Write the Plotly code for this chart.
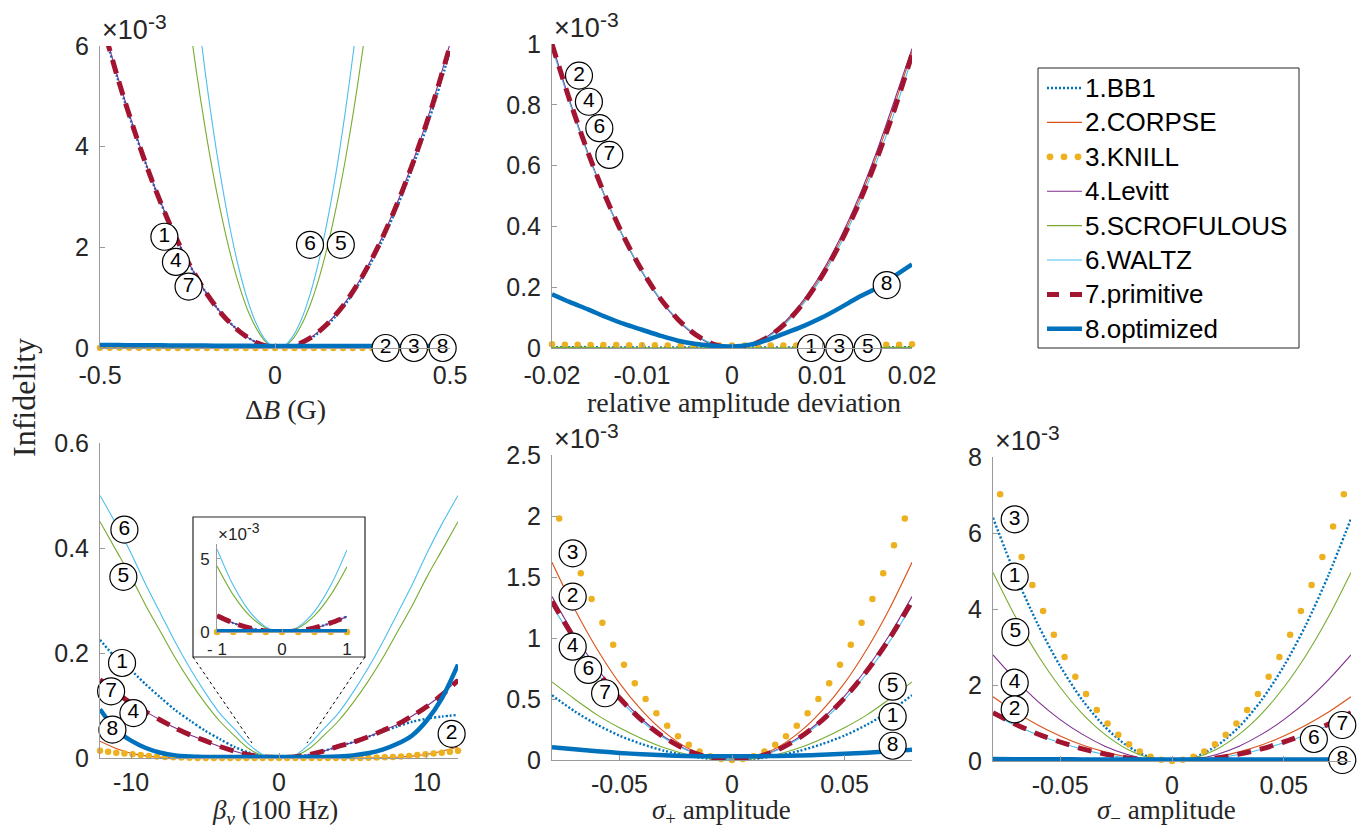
import plotly.graph_objects as go

W, H = 1369, 829
def PX(x): return x / W
def PY(y): return 1 - y / H

SANS = "Liberation Sans"
SERIF = "Liberation Serif"
TXT = "#262626"
AXC = "#9a9a9a"

COL = dict(bb1="#0072BD", corpse="#D95319", knill="#EDB120", levitt="#7E2F8E",
           scrof="#77AC30", waltz="#4DBEEE", prim="#A2142F", opt="#0072BD")
legend_names = ["1.BB1", "2.CORPSE", "3.KNILL", "4.Levitt", "5.SCROFULOUS",
                "6.WALTZ", "7.primitive", "8.optimized"]

# ---------------- Panel 1 : Delta B (G), infidelity x1e-3 ----------------
p1_x = [-0.5, -0.45, -0.4, -0.35, -0.3, -0.25, -0.2, -0.15, -0.1, -0.05, 0,
        0.05, 0.1, 0.15, 0.2, 0.25, 0.3, 0.35, 0.4, 0.45, 0.5]
p1_bb1 = [6.58, 5.36, 4.27, 3.30, 2.45, 1.73, 1.13, 0.66, 0.32, 0.10, 0.01,
          0.03, 0.18, 0.46, 0.86, 1.39, 2.04, 2.82, 3.72, 4.74, 5.90]
p1_corpse = [0.004, 0.004, 0.003, 0.003, 0.003, 0.002, 0.002, 0.002, 0.001, 0.001, 0.0,
             0.001, 0.001, 0.002, 0.002, 0.002, 0.003, 0.003, 0.003, 0.004, 0.004]
p1_levitt = [6.65, 5.40, 4.30, 3.31, 2.46, 1.74, 1.13, 0.66, 0.32, 0.10, 0.005,
             0.04, 0.20, 0.49, 0.90, 1.44, 2.11, 2.90, 3.82, 4.87, 6.05]
p1_prim = [6.61, 5.38, 4.28, 3.30, 2.45, 1.73, 1.13, 0.66, 0.32, 0.097, 0.004,
           0.036, 0.195, 0.48, 0.89, 1.43, 2.09, 2.88, 3.79, 4.83, 6.00]
p1_opt = [0.06, 0.058, 0.056, 0.054, 0.052, 0.05, 0.048, 0.046, 0.044, 0.042, 0.04,
          0.04, 0.04, 0.04, 0.04, 0.04, 0.04, 0.04, 0.04, 0.04, 0.04]
p1_scrof_x = [-0.25, -0.225, -0.2, -0.175, -0.15, -0.125, -0.1, -0.075, -0.05, -0.025, 0,
              0.025, 0.05, 0.075, 0.1, 0.125, 0.15, 0.175, 0.2, 0.225, 0.25, 0.275]
p1_scrof = [6.75, 5.51, 4.39, 3.40, 2.54, 1.80, 1.19, 0.70, 0.35, 0.11, 0.007,
            0.027, 0.17, 0.45, 0.85, 1.37, 2.02, 2.80, 3.70, 4.73, 5.89, 7.17]
p1_waltz_x = [-0.225, -0.2, -0.175, -0.15, -0.125, -0.1, -0.075, -0.05, -0.025, 0,
              0.025, 0.05, 0.075, 0.1, 0.125, 0.15, 0.175, 0.2, 0.225, 0.25]
p1_waltz = [6.91, 5.51, 4.27, 3.19, 2.26, 1.49, 0.88, 0.43, 0.14, 0.009,
            0.034, 0.22, 0.56, 1.06, 1.72, 2.54, 3.51, 4.65, 5.94, 7.39]
p1_knill_x = [-0.5, -0.4722, -0.4444, -0.4167, -0.3889, -0.3611, -0.3333, -0.3056, -0.2778,
              -0.25, -0.2222, -0.1944, -0.1667, -0.1389, -0.1111, -0.0833, -0.0556, -0.0278, 0,
              0.0278, 0.0556, 0.0833, 0.1111, 0.1389, 0.1667, 0.1944, 0.2222, 0.25,
              0.2778, 0.3056, 0.3333, 0.3611, 0.3889, 0.4167, 0.4444, 0.4722, 0.5]
p1_knill = [0.006, 0.005, 0.004, 0.004, 0.003, 0.003, 0.002, 0.002, 0.002,
            0.001, 0.001, 0.001, 0.001, 0.0, 0.0, 0.0, 0.0, 0.0, 0.0,
            0.0, 0.0, 0.0, 0.0, 0.0, 0.001, 0.001, 0.001, 0.001,
            0.002, 0.002, 0.002, 0.003, 0.003, 0.004, 0.004, 0.005, 0.006]
lab1_x = [-0.316, -0.283, -0.247, 0.100, 0.188, 0.316, 0.397, 0.479]
lab1_y = [2.21, 1.71, 1.22, 2.05, 2.05, 0.0, 0.0, 0.0]
lab1_t = ["1", "4", "7", "6", "5", "2", "3", "8"]

# ---------------- Panel 2 : relative amplitude deviation ----------------
p2_x = [-0.02, -0.018, -0.016, -0.014, -0.012, -0.01, -0.008, -0.006, -0.004, -0.002, 0,
        0.002, 0.004, 0.006, 0.008, 0.01, 0.012, 0.014, 0.016, 0.018, 0.02]
p2_bb1 = [0.003, 0.003, 0.003, 0.002, 0.002, 0.002, 0.002, 0.002, 0.002, 0.002, 0.002,
          0.002, 0.002, 0.002, 0.002, 0.002, 0.002, 0.002, 0.003, 0.003, 0.003]
p2_corpse = [0.995, 0.808, 0.640, 0.491, 0.361, 0.252, 0.162, 0.092, 0.042, 0.011, 0.0,
             0.009, 0.038, 0.086, 0.154, 0.242, 0.350, 0.478, 0.626, 0.794, 0.975]
p2_levitt = [1.00, 0.81, 0.64, 0.49, 0.36, 0.25, 0.16, 0.09, 0.04, 0.01, 0.0,
             0.01, 0.04, 0.09, 0.16, 0.25, 0.36, 0.49, 0.64, 0.81, 0.985]
p2_scrof = [0.002, 0.002, 0.002, 0.001, 0.001, 0.001, 0.001, 0.001, 0.001, 0.001, 0.001,
            0.001, 0.001, 0.001, 0.001, 0.001, 0.001, 0.001, 0.002, 0.002, 0.002]
p2_waltz = [0.99, 0.804, 0.636, 0.489, 0.360, 0.252, 0.162, 0.093, 0.043, 0.012, 0.0,
            0.008, 0.036, 0.082, 0.148, 0.234, 0.339, 0.464, 0.608, 0.772, 0.955]
p2_prim = [1.000, 0.812, 0.643, 0.494, 0.364, 0.255, 0.164, 0.094, 0.043, 0.012, 0.0,
           0.008, 0.036, 0.083, 0.150, 0.237, 0.343, 0.469, 0.615, 0.780, 0.965]
p2_opt = [0.177, 0.151, 0.127, 0.102, 0.079, 0.060, 0.041, 0.024, 0.013, 0.007, 0.005,
          0.011, 0.027, 0.050, 0.073, 0.100, 0.132, 0.166, 0.196, 0.236, 0.275]
p2_knill_x = [-0.02, -0.01857, -0.01714, -0.01571, -0.01429, -0.01286, -0.01143, -0.01,
              -0.00857, -0.00714, -0.00571, -0.00429, -0.00286, -0.00143, 0, 0.00143,
              0.00286, 0.00429, 0.00571, 0.00714, 0.00857, 0.01, 0.01143, 0.01286,
              0.01429, 0.01571, 0.01714, 0.01857, 0.02]
p2_knill = [0.012, 0.011, 0.011, 0.010, 0.010, 0.010, 0.009, 0.009, 0.009, 0.008, 0.008,
            0.008, 0.008, 0.008, 0.008, 0.008, 0.008, 0.008, 0.008, 0.008, 0.009, 0.009,
            0.009, 0.010, 0.010, 0.010, 0.011, 0.011, 0.012]
lab2_x = [-0.0170, -0.0159, -0.01474, -0.01363, 0.01719, 0.00878, 0.01193, 0.01508]
lab2_y = [0.896, 0.810, 0.723, 0.635, 0.207, 0.0, 0.0, 0.0]
lab2_t = ["2", "4", "6", "7", "8", "1", "3", "5"]

# ---------------- Panel 3 : beta_v (100 Hz) ----------------
p3_x = [-12.1, -11, -10, -9, -8, -7, -6, -5, -4, -3, -2, -1, 0,
        1, 2, 3, 4, 5, 6, 7, 8, 9, 10, 11, 12.1]
p3_bb1 = [0.225, 0.190, 0.167, 0.140, 0.115, 0.091, 0.071, 0.052, 0.036, 0.021, 0.010, 0.003, 0.001,
          0.002, 0.006, 0.013, 0.022, 0.030, 0.040, 0.050, 0.060, 0.069, 0.075, 0.079, 0.082]
p3_corpse = [0.032, 0.018, 0.009, 0.004, 0.0015, 0.0005, 0.0, 0.0, 0.0, 0.0, 0.0, 0.0, 0.0,
             0.0, 0.0, 0.0, 0.0, 0.0, 0.0, 0.0005, 0.0015, 0.0035, 0.007, 0.013, 0.021]
p3_levitt = [0.149, 0.125, 0.104, 0.088, 0.072, 0.057, 0.044, 0.033, 0.022, 0.013, 0.006, 0.002, 0.001,
             0.002, 0.006, 0.013, 0.022, 0.030, 0.040, 0.052, 0.064, 0.080, 0.099, 0.121, 0.150]
p3_scrof = [0.450, 0.395, 0.345, 0.290, 0.240, 0.190, 0.145, 0.105, 0.070, 0.042, 0.017, 0.004, 0.0,
            0.003, 0.017, 0.042, 0.070, 0.105, 0.145, 0.190, 0.240, 0.290, 0.345, 0.395, 0.450]
p3_waltz = [0.500, 0.445, 0.390, 0.330, 0.275, 0.220, 0.170, 0.125, 0.085, 0.055, 0.025, 0.005, 0.0,
            0.004, 0.025, 0.055, 0.085, 0.125, 0.170, 0.220, 0.275, 0.330, 0.390, 0.445, 0.500]
p3_prim = [0.149, 0.125, 0.104, 0.088, 0.072, 0.057, 0.044, 0.033, 0.022, 0.013, 0.006, 0.002, 0.001,
           0.002, 0.006, 0.013, 0.022, 0.030, 0.040, 0.052, 0.064, 0.080, 0.098, 0.120, 0.148]
p3_opt = [0.093, 0.053, 0.033, 0.019, 0.010, 0.005, 0.003, 0.002, 0.002, 0.002, 0.002, 0.002, 0.002,
          0.002, 0.002, 0.002, 0.003, 0.005, 0.009, 0.016, 0.027, 0.043, 0.072, 0.113, 0.178]
p3_knill_x = [-12.1, -11.55, -11.0, -10.45, -9.9, -9.35, -8.8, -8.25, -7.7, -7.15, -6.6, -6.05,
              -5.5, -4.95, -4.4, -3.85, -3.3, -2.75, -2.2, -1.65, -1.1, -0.55, 0, 0.55, 1.1,
              1.65, 2.2, 2.75, 3.3, 3.85, 4.4, 4.95, 5.5, 6.05, 6.6, 7.15, 7.7, 8.25, 8.8,
              9.35, 9.9, 10.45, 11.0, 11.55, 12.1]
p3_knill = [0.014, 0.012, 0.010, 0.0085, 0.007, 0.0055, 0.004, 0.003, 0.002, 0.0013, 0.0008, 0.0004,
            0.0002, 0.0001, 0.0001, 0.0001, 0.0001, 0.0001, 0.0001, 0.0001, 0.0001, 0.0001, 0.0001,
            0.0001, 0.0001, 0.0001, 0.0001, 0.0001, 0.0001, 0.0001, 0.0001, 0.0001, 0.0002, 0.0004,
            0.0008, 0.0013, 0.002, 0.003, 0.004, 0.0055, 0.007, 0.0085, 0.010, 0.012, 0.014]
lab3_x = [-10.45, -10.52, -10.61, -11.35, -9.84, -11.26, 11.67, 11.67]
lab3_y = [0.435, 0.345, 0.181, 0.127, 0.0855, 0.054, 0.046, -0.003]
lab3_t = ["6", "5", "1", "7", "4", "8", "2", "3"]

# inset of panel 3 (x1e-3)
pi_x = [-1, -0.75, -0.5, -0.25, 0, 0.25, 0.5, 0.75, 1]
pi_bb1 = [1.08, 0.61, 0.27, 0.07, 0.0, 0.07, 0.27, 0.61, 1.06]
pi_corpse = [0.0, 0.0, 0.0, 0.0, 0.0, 0.0, 0.0, 0.0, 0.0]
pi_knill = [0.0, 0.0, 0.0, 0.0, 0.0, 0.0, 0.0, 0.0, 0.0]
pi_levitt = [1.10, 0.62, 0.27, 0.07, 0.0, 0.07, 0.27, 0.62, 1.05]
pi_scrof = [4.5, 2.53, 1.12, 0.28, 0.0, 0.28, 1.12, 2.53, 4.45]
pi_waltz = [5.65, 3.18, 1.41, 0.35, 0.0, 0.35, 1.41, 3.18, 5.6]
pi_prim = [1.10, 0.62, 0.27, 0.07, 0.0, 0.07, 0.27, 0.62, 1.05]
pi_opt = [0.05, 0.05, 0.05, 0.05, 0.05, 0.05, 0.05, 0.05, 0.05]

# ---------------- Panel 4 : sigma+ amplitude (x1e-3) ----------------
p45_x = [-0.08, -0.07, -0.06, -0.05, -0.04, -0.03, -0.02, -0.01, 0,
         0.01, 0.02, 0.03, 0.04, 0.05, 0.06, 0.07, 0.08]
pk_x = [-0.0768, -0.072, -0.0672, -0.0624, -0.0576, -0.0528, -0.048, -0.0432, -0.0384,
        -0.0336, -0.0288, -0.024, -0.0192, -0.0144, -0.0096, -0.0048, 0, 0.0048, 0.0096,
        0.0144, 0.0192, 0.024, 0.0288, 0.0336, 0.0384, 0.0432, 0.048, 0.0528, 0.0576,
        0.0624, 0.0672, 0.072, 0.0768]
p4_bb1 = [0.53, 0.40, 0.29, 0.20, 0.13, 0.075, 0.035, 0.01, 0.002,
          0.01, 0.035, 0.075, 0.13, 0.20, 0.29, 0.40, 0.53]
p4_corpse = [1.62, 1.24, 0.91, 0.63, 0.405, 0.228, 0.101, 0.025, 0.0,
             0.025, 0.101, 0.228, 0.405, 0.63, 0.91, 1.24, 1.62]
p4_levitt = [1.34, 1.024, 0.752, 0.523, 0.334, 0.188, 0.084, 0.021, 0.0,
             0.021, 0.084, 0.188, 0.334, 0.523, 0.752, 1.024, 1.34]
p4_scrof = [0.64, 0.50, 0.37, 0.265, 0.175, 0.10, 0.045, 0.012, 0.0,
            0.012, 0.045, 0.10, 0.175, 0.265, 0.37, 0.50, 0.64]
p4_waltz = [1.27, 0.970, 0.713, 0.495, 0.317, 0.178, 0.079, 0.020, 0.0,
            0.020, 0.079, 0.178, 0.317, 0.495, 0.713, 0.970, 1.27]
p4_prim = [1.30, 0.995, 0.731, 0.508, 0.325, 0.183, 0.081, 0.020, 0.0,
           0.020, 0.081, 0.183, 0.325, 0.508, 0.731, 0.995, 1.30]
p4_opt = [0.105, 0.088, 0.072, 0.058, 0.047, 0.038, 0.033, 0.030, 0.030,
          0.031, 0.033, 0.037, 0.043, 0.051, 0.060, 0.071, 0.085]
p4_knill = [1.98, 1.76, 1.53, 1.32, 1.125, 0.945, 0.78, 0.63, 0.50, 0.383, 0.281, 0.195,
            0.125, 0.07, 0.031, 0.008, 0.0, 0.008, 0.031, 0.07, 0.125, 0.195, 0.281, 0.383,
            0.50, 0.63, 0.78, 0.945, 1.125, 1.32, 1.53, 1.76, 1.98]
lab4_x = [-0.0708, -0.0708, -0.0708, -0.0639, -0.0564, 0.0714, 0.0714, 0.0714]
lab4_y = [1.694, 1.339, 0.929, 0.738, 0.547, 0.601, 0.355, 0.117]
lab4_t = ["3", "2", "4", "6", "7", "5", "1", "8"]

# ---------------- Panel 5 : sigma- amplitude (x1e-3) ----------------
p5_bb1 = [6.40, 4.90, 3.60, 2.50, 1.60, 0.90, 0.40, 0.10, 0.0,
          0.10, 0.40, 0.90, 1.60, 2.50, 3.60, 4.90, 6.38]
p5_corpse = [1.69, 1.29, 0.95, 0.66, 0.42, 0.24, 0.106, 0.026, 0.0,
             0.026, 0.106, 0.24, 0.42, 0.66, 0.95, 1.29, 1.69]
p5_levitt = [2.79, 2.14, 1.57, 1.09, 0.70, 0.39, 0.17, 0.04, 0.0,
             0.04, 0.17, 0.39, 0.70, 1.09, 1.57, 2.14, 2.79]
p5_scrof = [4.96, 3.80, 2.79, 1.94, 1.24, 0.70, 0.31, 0.08, 0.0,
            0.08, 0.31, 0.70, 1.24, 1.94, 2.79, 3.80, 4.96]
p5_waltz = [1.23, 0.94, 0.69, 0.48, 0.31, 0.17, 0.077, 0.019, 0.0,
            0.019, 0.077, 0.17, 0.31, 0.48, 0.69, 0.94, 1.23]
p5_prim = [1.27, 0.97, 0.71, 0.50, 0.32, 0.18, 0.08, 0.02, 0.0,
           0.02, 0.08, 0.18, 0.32, 0.50, 0.71, 0.97, 1.27]
p5_opt = [0.05, 0.048, 0.046, 0.044, 0.042, 0.04, 0.04, 0.04, 0.04,
          0.04, 0.04, 0.04, 0.04, 0.04, 0.04, 0.04, 0.04]
p5_knill = [7.02, 6.17, 5.37, 4.63, 3.95, 3.32, 2.74, 2.22, 1.76, 1.34, 0.99, 0.69,
            0.44, 0.25, 0.11, 0.03, 0.0, 0.03, 0.11, 0.25, 0.44, 0.69, 0.99, 1.34,
            1.76, 2.22, 2.74, 3.32, 3.95, 4.63, 5.37, 6.17, 7.02]
lab5_x = [-0.0703, -0.0703, -0.0700, -0.0703, -0.0703, 0.0761, 0.0634, 0.0761]
lab5_y = [6.36, 4.85, 3.39, 2.06, 1.36, 0.947, 0.579, 0.026]
lab5_t = ["3", "1", "5", "4", "2", "7", "6", "8"]

# ------------------------------------------------------------------
LINE = {
    "bb1": dict(color=COL["bb1"], width=2.4, dash="2px,2px"),
    "corpse": dict(color=COL["corpse"], width=1.1),
    "levitt": dict(color=COL["levitt"], width=1.1),
    "scrof": dict(color=COL["scrof"], width=1.1),
    "waltz": dict(color=COL["waltz"], width=1.1),
    "prim": dict(color=COL["prim"], width=5, dash="14px,9px"),
    "opt": dict(color=COL["opt"], width=4.5),
}

fig = go.Figure()

def add_line(x, y, key, n, smooth=0.8):
    fig.add_trace(go.Scatter(x=x, y=y, mode="lines", line=dict(shape="spline", smoothing=smooth, **LINE[key]),
                             xaxis="x" + n, yaxis="y" + n, showlegend=False, hoverinfo="skip"))

def add_knill(x, y, n, size=6.5):
    fig.add_trace(go.Scatter(x=x, y=y, mode="markers", marker=dict(color=COL["knill"], size=size, line=dict(width=0)),
                             xaxis="x" + n, yaxis="y" + n, showlegend=False, cliponaxis=False, hoverinfo="skip"))

def add_labels(x, y, t, n):
    fig.add_trace(go.Scatter(x=x, y=y, text=t, mode="markers+text", textposition="middle center",
                             marker=dict(size=27, color="white", line=dict(color="black", width=1.2)),
                             textfont=dict(family=SANS, size=21, color="black"),
                             xaxis="x" + n, yaxis="y" + n, showlegend=False, cliponaxis=False, hoverinfo="skip"))

def panel(n, x, bb1, corpse, kx, kn, levitt, scrof, waltz, prim, opt, sx=None, wx=None):
    add_line(x, bb1, "bb1", n)
    add_line(x, corpse, "corpse", n)
    add_knill(kx, kn, n)
    add_line(x, levitt, "levitt", n)
    add_line(sx if sx else x, scrof, "scrof", n)
    add_line(wx if wx else x, waltz, "waltz", n)
    add_line(x, prim, "prim", n)
    add_line(x, opt, "opt", n)

panel("", p1_x, p1_bb1, p1_corpse, p1_knill_x, p1_knill, p1_levitt, p1_scrof, p1_waltz, p1_prim, p1_opt,
      sx=p1_scrof_x, wx=p1_waltz_x)
add_labels(lab1_x, lab1_y, lab1_t, "")
panel("2", p2_x, p2_bb1, p2_corpse, p2_knill_x, p2_knill, p2_levitt, p2_scrof, p2_waltz, p2_prim, p2_opt)
add_labels(lab2_x, lab2_y, lab2_t, "2")
panel("3", p3_x, p3_bb1, p3_corpse, p3_knill_x, p3_knill, p3_levitt, p3_scrof, p3_waltz, p3_prim, p3_opt)
add_labels(lab3_x, lab3_y, lab3_t, "3")
panel("4", p45_x, p4_bb1, p4_corpse, pk_x, p4_knill, p4_levitt, p4_scrof, p4_waltz, p4_prim, p4_opt)
add_labels(lab4_x, lab4_y, lab4_t, "4")
panel("5", p45_x, p5_bb1, p5_corpse, pk_x, p5_knill, p5_levitt, p5_scrof, p5_waltz, p5_prim, p5_opt)
add_labels(lab5_x, lab5_y, lab5_t, "5")
panel("6", pi_x, pi_bb1, pi_corpse, pi_x, pi_knill, pi_levitt, pi_scrof, pi_waltz, pi_prim, pi_opt)

def ax(dom_px, rng, tv, tt, is_x, anchor, fs=25, standoff=None):
    d = dict(domain=[PX(dom_px[0]), PX(dom_px[1])] if is_x else [PY(dom_px[1]), PY(dom_px[0])],
             range=rng, tickmode="array", tickvals=tv, ticktext=tt, anchor=anchor,
             showgrid=False, zeroline=False, showline=True, linecolor=AXC, linewidth=1,
             ticks="inside", ticklen=5 if fs > 20 else 3, tickcolor=AXC, tickwidth=1,
             tickfont=dict(family=SANS, size=fs, color=TXT), fixedrange=True)
    d["ticklabelstandoff"] = standoff if standoff is not None else 5
    return d

layout_axes = {
    "xaxis": ax([100, 450], [-0.5, 0.5], [-0.5, 0, 0.5], ["-0.5", "0", "0.5"], True, "y"),
    "yaxis": ax([46, 348], [0, 6], [0, 2, 4, 6], ["0", "2", "4", "6"], False, "x"),
    "xaxis2": ax([552, 912], [-0.02, 0.02], [-0.02, -0.01, 0, 0.01, 0.02],
                 ["-0.02", "-0.01", "0", "0.01", "0.02"], True, "y2"),
    "yaxis2": ax([44, 348], [0, 1], [0, 0.2, 0.4, 0.6, 0.8, 1],
                 ["0", "0.2", "0.4", "0.6", "0.8", "1"], False, "x2"),
    "xaxis3": ax([100, 458], [-12.1, 12.1], [-10, 0, 10], ["-10", "0", "10"], True, "y3", standoff=2),
    "yaxis3": ax([443, 758], [0, 0.6], [0, 0.2, 0.4, 0.6], ["0", "0.2", "0.4", "0.6"], False, "x3"),
    "xaxis4": ax([552, 912], [-0.08, 0.08], [-0.05, 0, 0.05], ["-0.05", "0", "0.05"], True, "y4", standoff=2),
    "yaxis4": ax([455, 760], [0, 2.5], [0, 0.5, 1, 1.5, 2, 2.5],
                 ["0", "0.5", "1", "1.5", "2", "2.5"], False, "x4"),
    "xaxis5": ax([993, 1351], [-0.08, 0.08], [-0.05, 0, 0.05], ["-0.05", "0", "0.05"], True, "y5", standoff=2),
    "yaxis5": ax([457, 761], [0, 8], [0, 2, 4, 6, 8], ["0", "2", "4", "6", "8"], False, "x5"),
    "xaxis6": ax([217, 347], [-1, 1], [-1, 0, 1], ["- 1", "0", "1"], True, "y6", fs=17, standoff=2),
    "yaxis6": ax([544, 632], [0, 6], [0, 5], ["0", "5"], False, "x6", fs=17, standoff=3),
}

ann = []
def text(x, y, s, size, fam=SANS, color=TXT, xanchor="center", yanchor="middle", angle=0):
    ann.append(dict(x=PX(x), y=PY(y), xref="paper", yref="paper", text=s, showarrow=False,
                    font=dict(family=fam, size=size, color=color), xanchor=xanchor, yanchor=yanchor,
                    textangle=angle, borderpad=0))

# exponent labels: "x10" plus raised "-3"
def exponent(x_axis, y_top, big=27, small=21):
    text(x_axis + 1, y_top - 0.5, "\u00d710", big, xanchor="left", yanchor="bottom")
    text(x_axis + 1 + 1.70 * big, y_top - 0.46 * big, "-3", small, xanchor="left", yanchor="bottom")

exponent(100, 46)
exponent(552, 44)
exponent(552, 455)
exponent(993, 457)
exponent(216, 545, big=17, small=14)

# axis titles
text(285, 409, "\u0394<i>B</i> (G)", 28, fam=SERIF)
text(744, 402, "relative amplitude deviation", 28, fam=SERIF)
text(275, 812, "<i>\u03b2<sub>v</sub></i> (100 Hz)", 27, fam=SERIF)
text(721, 812, "<i>\u03c3</i><sub>+</sub> amplitude", 27, fam=SERIF)
text(1166, 812, "<i>\u03c3</i><sub>\u2212</sub> amplitude", 27, fam=SERIF)
text(24, 398, "Infidelity", 32, fam=SERIF, angle=-90)

# legend (manual)
shapes = []
LEG_Y0, LEG_DY = 88, 34.4
for i, name in enumerate(legend_names):
    yy = LEG_Y0 + i * LEG_DY
    text(1084, yy, name, 26, color="black", xanchor="left")
keys = ["bb1", "corpse", None, "levitt", "scrof", "waltz", "prim", "opt"]
for i, k in enumerate(keys):
    yy = PY(LEG_Y0 + i * LEG_DY)
    if k is None:
        for cx in (1050, 1064, 1078):
            shapes.append(dict(type="circle", xref="paper", yref="paper",
                               x0=PX(cx - 3.4), x1=PX(cx + 3.4), y0=yy - 3.4 / H, y1=yy + 3.4 / H,
                               fillcolor=COL["knill"], line=dict(width=0)))
    else:
        st = dict(LINE[k])
        if k == "prim":
            st["dash"] = "12px,11px"
        shapes.append(dict(type="line", xref="paper", yref="paper", x0=PX(1047), x1=PX(1082),
                           y0=yy, y1=yy, line=st))
shapes.append(dict(type="rect", xref="paper", yref="paper", x0=PX(1038), x1=PX(1299),
                   y0=PY(348), y1=PY(68), line=dict(color="#262626", width=1)))
# inset box and connectors
shapes.append(dict(type="rect", xref="paper", yref="paper", x0=PX(193), x1=PX(365),
                   y0=PY(657), y1=PY(517), line=dict(color="#262626", width=1.2), layer="above"))
shapes.append(dict(type="line", xref="paper", yref="paper", x0=PX(193), y0=PY(657), x1=PX(252), y1=PY(743),
                   line=dict(color="black", width=1, dash="3px,3px")))
shapes.append(dict(type="line", xref="paper", yref="paper", x0=PX(365), y0=PY(657), x1=PX(307), y1=PY(743),
                   line=dict(color="black", width=1, dash="3px,3px")))

fig.update_layout(width=W, height=H, autosize=False, margin=dict(l=0, r=0, t=0, b=0),
                  paper_bgcolor="white", plot_bgcolor="white", template="none",
                  showlegend=False, annotations=ann, shapes=shapes, **layout_axes)

fig.write_html("out.html")
